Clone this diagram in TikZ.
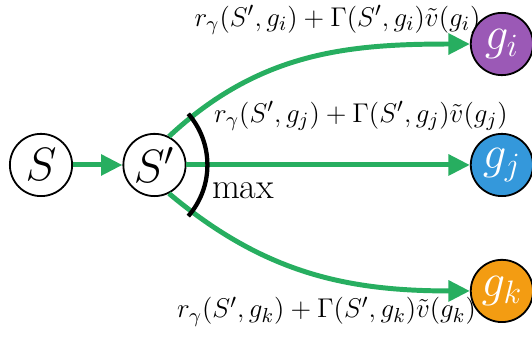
\documentclass[tikz,border=0pt]{standalone}
\usepackage{amsmath}
\usepackage{amssymb}
\usetikzlibrary{arrows.meta}
\definecolor{flowgreen}{RGB}{39,174,96}
\definecolor{gpurple}{RGB}{155,89,182}
\definecolor{gblue}{RGB}{52,152,219}
\definecolor{gorange}{RGB}{243,156,18}
\begin{document}
\begin{tikzpicture}[scale=1.0,
    state/.style={circle, draw=black, line width=0.8pt, minimum size=0.97cm, inner sep=0pt, font=\huge},
    goal/.style={state, text=white},
    flow/.style={draw=flowgreen, line width=2.2pt, -{Triangle[length=9.5pt, width=9pt]}},
    every node/.style={font=\fontsize{12.4}{15}\selectfont}]
    \useasboundingbox (0,0) rectangle (8.29,5.313);
    % states
    \node[state] (s) at (0.639,2.742) {$S$};
    \node[state] (sp) at (2.407,2.742) {$S'$};
    % goals
    \node[goal, fill=gpurple] (gi) at (7.821,4.627) {$g_i$};
    \node[goal, fill=gblue] (gj) at (7.821,2.742) {$g_j$};
    \node[goal, fill=gorange] (gk) at (7.821,0.779) {$g_k$};

    % edges
    \draw[flow] (s) -- (sp);
    \draw[flow] (sp.63) to[out=43,in=180] (gi);
    \draw[flow] (sp) -- (gj);
    \draw[flow] (sp.-63) to[out=-40,in=180] (gk);

    % max arc
    \draw[line width=1.9pt] (sp.center) ++(-0.39,0) ++(-41:1.215) arc[start angle=-41, end angle=41, radius=1.215];
    \node[font=\fontsize{16}{19}\selectfont] (mx) at (3.786,2.337) {max};

    % values
    \node (vi) at (5.258,5.0) {$r_\gamma(S',g_i)+\Gamma(S',g_i)\tilde{v}(g_i)$};
    \node (vj) at (5.624,3.513) {$r_\gamma(S',g_j)+\Gamma(S',g_j)\tilde{v}(g_j)$};
    \node (vk) at (5.087,0.46) {$r_\gamma(S',g_k)+\Gamma(S',g_k)\tilde{v}(g_k)$};
\end{tikzpicture}
\end{document}
